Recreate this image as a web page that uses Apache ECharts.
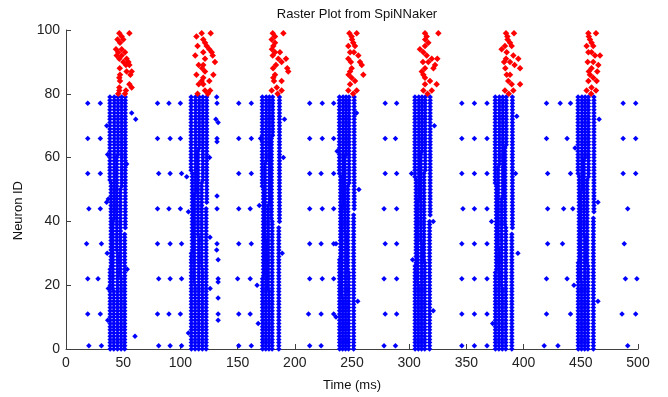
<!DOCTYPE html>
<html><head><meta charset="utf-8">
<script src="https://cdn.jsdelivr.net/npm/echarts@6/dist/echarts.min.js"></script>
<style>html,body{margin:0;padding:0;background:#fff}#c{width:668px;height:397px}</style>
</head><body><div id="c"></div>
<script>
const titleText = 'Raster Plot from SpiNNaker';
const xName = 'Time (ms)';
const yName = 'Neuron ID';
const xTicks = [0, 50, 100, 150, 200, 250, 300, 350, 400, 450, 500];
const yTicks = [0, 20, 40, 60, 80, 100];

// spike columns in each blue burst: [ms, first neuron, last neuron]
const burst1Cols = [[38.6,0,25],[39.4,26,52],[38.4,53,79],[41.8,0,18],[41.0,19,40],[42.2,41,79],[45.0,0,30],[44.4,31,60],[45.4,61,79],[48.2,0,22],[47.6,23,50],[48.6,51,79],[51.3,0,36],[51.8,38,79]];
const burst2Cols = [[109.6,0,30],[110.4,31,55],[109.4,56,79],[112.8,0,20],[112.2,21,48],[113.2,49,79],[116.0,0,35],[115.4,36,62],[116.4,63,79],[119.2,0,25],[118.6,26,52],[119.6,53,79],[122.5,0,44],[123.0,46,79]];
const burst3Cols = [[171.8,0,22],[172.6,23,50],[171.6,51,79],[174.6,0,34],[174.0,35,58],[175.0,59,79],[177.4,0,18],[176.8,19,45],[177.8,46,79],[180.2,0,40],[179.6,41,66],[180.6,67,79],[186.0,0,38],[186.6,40,79]];
const burst4Cols = [[239.2,0,28],[240.0,29,54],[239.0,55,79],[241.8,0,16],[241.2,17,44],[242.2,45,79],[244.4,0,36],[243.8,37,60],[244.8,61,79],[247.0,0,24],[246.4,25,51],[247.4,52,79],[251.4,0,42],[251.9,44,79]];
const burst5Cols = [[305.2,0,26],[306.0,27,53],[305.0,54,79],[308.0,0,20],[307.4,21,46],[308.4,47,79],[310.8,0,33],[310.2,34,61],[311.2,62,79],[313.6,0,27],[313.0,28,55],[314.0,56,79],[317.8,0,40],[318.3,42,79]];
const burst6Cols = [[375.4,0,24],[376.2,25,51],[375.2,52,79],[378.4,0,31],[377.8,32,57],[378.8,58,79],[381.4,0,19],[380.8,20,47],[381.8,48,79],[384.4,0,38],[383.8,39,63],[384.8,64,79],[389.7,0,36],[390.2,38,79]];
const burst7Cols = [[447.8,0,27],[448.6,28,54],[447.6,55,79],[450.6,0,21],[450.0,22,49],[451.0,50,79],[453.4,0,35],[452.8,36,59],[453.8,60,79],[456.2,0,26],[455.6,27,53],[456.6,54,79],[461.0,0,41],[461.5,43,79]];

// regularly firing neurons between bursts
const pacerIds = [1, 11, 22, 33, 44, 55, 66, 77];
const pacer1 = [20, 31, 81, 91, 101, 151, 162, 213, 223, 278, 288, 346, 357, 368, 418, 430, 491];
const pacer11 = [19, 30, 80, 90, 100, 133, 151, 161, 212, 223, 234, 279, 289, 346, 357, 368, 420, 441, 486, 498];
const pacer22 = [19, 28, 81, 91, 101, 133, 150, 161, 213, 224, 234, 278, 289, 346, 357, 368, 420, 438, 489, 499];
const pacer33 = [18, 31, 80, 91, 101, 132, 151, 162, 213, 223, 234, 279, 289, 346, 357, 368, 421, 434, 488];
const pacer44 = [20, 30, 80, 90, 100, 132, 151, 161, 213, 224, 234, 278, 289, 347, 357, 368, 421, 435, 443, 491];
const pacer55 = [19, 30, 81, 91, 101, 151, 162, 213, 223, 234, 279, 289, 346, 357, 368, 421, 441, 487, 498];
const pacer66 = [19, 30, 80, 91, 100, 132, 151, 162, 213, 224, 234, 279, 288, 346, 357, 368, 420, 438, 487, 498];
const pacer77 = [19, 30, 80, 90, 100, 132, 151, 162, 213, 224, 234, 279, 289, 346, 357, 368, 420, 432, 441, 487, 498];

// isolated blue spikes [ms, neuron]
const blueExtra = [[60.3,4],[57.4,74],[60.9,72],[35.6,70],[36.4,61],[35.5,46],[37,47],[37,19],[36,30],[53.5,25],[36.5,9],[53,58],
  [131.7,79],[131,72],[133,71],[132,65],[132,48],[125.9,35],[131.7,31],[133,28],[126,19],[133,21],[133,16],[133,9],[105.5,54],[107,43],[107,5],[125.5,60],
  [167,20],[169,45],[190,60],[191,72],[168,8],[189,30],[170,66],
  [236,33],[256,50],[255,15],[237,62],[254,74],[236,10],
  [322,70],[303,28],[321,12],[302,55],[321,40],
  [394,73],[372,40],[395,30],[373,8],[393,55],
  [466,72],[445,63],[465,46],[444,20],[465,15]];

// red population spikes [ms, neuron]
const red1 = [[46.6,99],[55.4,99],[48.7,98],[50.1,97],[47.2,96],[43.7,94],[48.7,94],[45.7,93],[51.6,93],[44.3,92],[48.7,92],[46.6,91],[53,91],[50.1,90],[54.5,90],[52.4,89],[55.4,89],[53,87],[57.4,87],[47.2,86],[56.3,86],[46.6,85],[47.2,84],[55.4,83],[46.6,82],[57.4,82],[46.6,81],[52.4,81],[45.7,80],[51.6,80],[47,88],[45,97]];
const red2 = [[118.6,99],[126.5,99],[120,97],[121.5,96],[123,95],[125.3,94],[127.4,93],[120,93],[128.2,92],[121.5,91],[130.2,90],[120,89],[121.5,87],[128.8,86],[120,85],[118.6,84],[125.3,84],[120,83],[126,81],[121.5,81],[114,98],[115,95],[113,92],[116,89],[114,86],[116,83],[115,80],[119,88],[124,80]];
const red3 = [[180.7,99],[190,99],[182.7,98],[179.8,97],[182.7,96],[181.2,95],[187,93],[182.7,93],[180.7,92],[185.6,91],[192.3,91],[188.5,90],[193.4,88],[194.3,87],[182.7,86],[181.2,85],[181.8,84],[188.5,84],[184.2,82],[179.8,81],[188.5,81],[183.5,89],[181,88],[185,80],[180,94]];
const red4 = [[247.7,99],[254.1,99],[249.7,98],[251.1,96],[246.8,95],[252.6,95],[248.3,93],[251.7,93],[255.5,92],[246.8,91],[257,90],[258.5,89],[249.7,88],[248.3,87],[259.9,86],[249.7,85],[252.6,84],[248.3,83],[254.1,81],[246.8,81],[250,97],[249,90],[251,80],[247,86]];
const red5 = [[313.8,99],[325.5,99],[315.3,98],[316.7,96],[309.4,94],[313.8,95],[312.4,93],[315.3,92],[319.7,91],[324.6,91],[316.7,90],[322.6,89],[313.8,88],[321.2,88],[312.4,86],[313.8,85],[318.2,84],[313.8,83],[324,83],[312.4,81],[319.7,81],[314,97],[312,90],[316,80],[311,87]];
const red6 = [[384.6,99],[391.6,99],[385.8,98],[388.1,96],[383.7,95],[389.6,95],[380.8,94],[385.2,93],[391,92],[384.6,91],[395.4,91],[388.1,90],[392.1,89],[396.9,88],[385.2,86],[388.1,86],[386.6,84],[389.6,83],[396.9,83],[383.7,81],[391,81],[386,97],[384,88],[387,80],[383,90]];
const red7 = [[456.6,99],[463.3,99],[458,97],[459.4,96],[455.1,95],[460.9,95],[456.6,93],[459.4,93],[462.4,92],[466.8,92],[460.9,90],[465.3,89],[459.4,88],[464.4,87],[458,86],[460.9,85],[456.6,84],[463.9,84],[459.4,82],[455.1,81],[463.3,81],[457,98],[456,90],[459,80],[457,87]];

const blueBursts = [burst1Cols, burst2Cols, burst3Cols, burst4Cols, burst5Cols, burst6Cols, burst7Cols];
const pacers = [pacer1, pacer11, pacer22, pacer33, pacer44, pacer55, pacer66, pacer77];
const redBursts = [red1, red2, red3, red4, red5, red6, red7];

const blueData = [];
blueBursts.forEach(cols => cols.forEach(([t, a, b]) => { for (let n = a; n <= b; n++) blueData.push([t, n]); }));
pacers.forEach((times, i) => times.forEach(t => blueData.push([t, pacerIds[i]])));
blueExtra.forEach(p => blueData.push(p));
const redData = [];
redBursts.forEach(b => b.forEach(p => redData.push(p)));

const chart = echarts.init(document.getElementById('c'), null, {renderer: 'canvas'});
const axisCol = '#404040';
const font = 'Liberation Sans, Arial, sans-serif';
chart.setOption({
  animation: false,
  backgroundColor: '#fff',
  title: {text: titleText, left: 352, top: 3, textAlign: 'center',
    textStyle: {fontSize: 13, fontWeight: 'normal', color: '#111', fontFamily: font}},
  grid: {left: 66, right: 30, top: 30, bottom: 45, containLabel: false},
  graphic: [{type: 'text', left: 12, top: 181, rotation: Math.PI / 2,
    style: {text: yName, fontSize: 13, fill: '#111', fontFamily: font}}],
  xAxis: {type: 'value', min: xTicks[0], max: xTicks[xTicks.length - 1], interval: 50,
    name: xName, nameLocation: 'middle', nameGap: 30,
    nameTextStyle: {fontSize: 13, color: '#111', fontFamily: font},
    axisLine: {lineStyle: {color: axisCol, width: 1}},
    axisTick: {inside: true, length: 5, lineStyle: {color: axisCol}},
    axisLabel: {fontSize: 14, color: '#222', margin: 7, fontFamily: font},
    splitLine: {show: false}},
  yAxis: {type: 'value', min: yTicks[0], max: yTicks[yTicks.length - 1], interval: 20,
    axisLine: {show: true, lineStyle: {color: axisCol, width: 1}},
    axisTick: {show: true, inside: true, length: 5, lineStyle: {color: axisCol}},
    axisLabel: {fontSize: 14, color: '#222', margin: 6, fontFamily: font},
    splitLine: {show: false}},
  series: [
    {type: 'scatter', data: blueData, symbol: 'diamond', symbolSize: 5.5,
      itemStyle: {color: '#0000ff', opacity: 1}, silent: true},
    {type: 'scatter', data: redData, symbol: 'diamond', symbolSize: 6.5,
      itemStyle: {color: '#ff0000', opacity: 1}, silent: true}
  ]
});
</script></body></html>
